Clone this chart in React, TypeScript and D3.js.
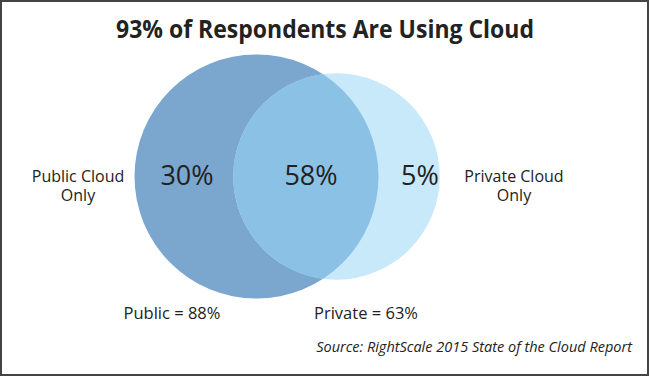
import React from "react";
import * as d3 from "d3";

const title = "93% of Respondents Are Using Cloud";
const setNames = ["Public", "Private"];
const setSizes = [88, 63];
const regionValues = [30, 58, 5];
const sideLabels = [["Public Cloud", "Only"], ["Private Cloud", "Only"]];
const source = "Source: RightScale 2015 State of the Cloud Report";

const W = 650;
const H = 377;
const FONT = "'Open Sans', 'Noto Sans', sans-serif";

export default function App() {
  const r = d3.scaleSqrt().domain([0, 88]).range([0, 122]);
  const rL = r(setSizes[0]);
  const rR = r(setSizes[1]);
  const cy = 176.5;
  const cxL = 256.5;
  const cxR = 336.5;
  const cLeft = "#7ba7cf";
  const cRight = "#c8e9f9";
  const cOver = "#8ac1e4";
  const txt = "#222";
  const regionX = [187, 311, 420];

  return (
    <svg
      width={W}
      height={H}
      style={{ position: "absolute", left: 0, top: 0, background: "#fff" }}
    >
      <defs>
        <clipPath id="clipL">
          <circle cx={cxL} cy={cy} r={rL} />
        </clipPath>
      </defs>
      <rect x={1} y={1} width={W - 3} height={H - 3} fill="#fff" stroke="#444" strokeWidth={2} />
      <text
        x={W / 2}
        y={38}
        textAnchor="middle"
        fontFamily={FONT}
        fontWeight={700}
        fontSize={25}
        fill={txt}
        textLength={418}
        lengthAdjust="spacingAndGlyphs"
      >
        {title}
      </text>
      <circle cx={cxL} cy={cy} r={rL} fill={cLeft} />
      <circle cx={cxR} cy={cy} r={rR} fill={cRight} />
      <circle cx={cxR} cy={cy} r={rR} fill={cOver} clipPath="url(#clipL)" />
      {regionValues.map((v, i) => (
        <text
          key={i}
          x={regionX[i]}
          y={185}
          textAnchor="middle"
          fontFamily={FONT}
          fontSize={27}
          fill={txt}
        >
          {v}%
        </text>
      ))}
      {sideLabels.map((lines, i) => (
        <text
          key={i}
          textAnchor="middle"
          fontFamily={FONT}
          fontSize={16}
          fill={txt}
        >
          {lines.map((l, j) => (
            <tspan key={j} x={i === 0 ? 78 : 514} y={182 + j * 18.5}>
              {l}
            </tspan>
          ))}
        </text>
      ))}
      {setNames.map((n, i) => (
        <text
          key={n}
          x={i === 0 ? 172 : 366}
          y={319}
          textAnchor="middle"
          fontFamily={FONT}
          fontSize={16.5}
          fill={txt}
        >
          {n} = {setSizes[i]}%
        </text>
      ))}
      <text
        x={632}
        y={352}
        textAnchor="end"
        fontFamily={FONT}
        fontStyle="italic"
        fontSize={14.5}
        fill={txt}
      >
        {source}
      </text>
    </svg>
  );
}
